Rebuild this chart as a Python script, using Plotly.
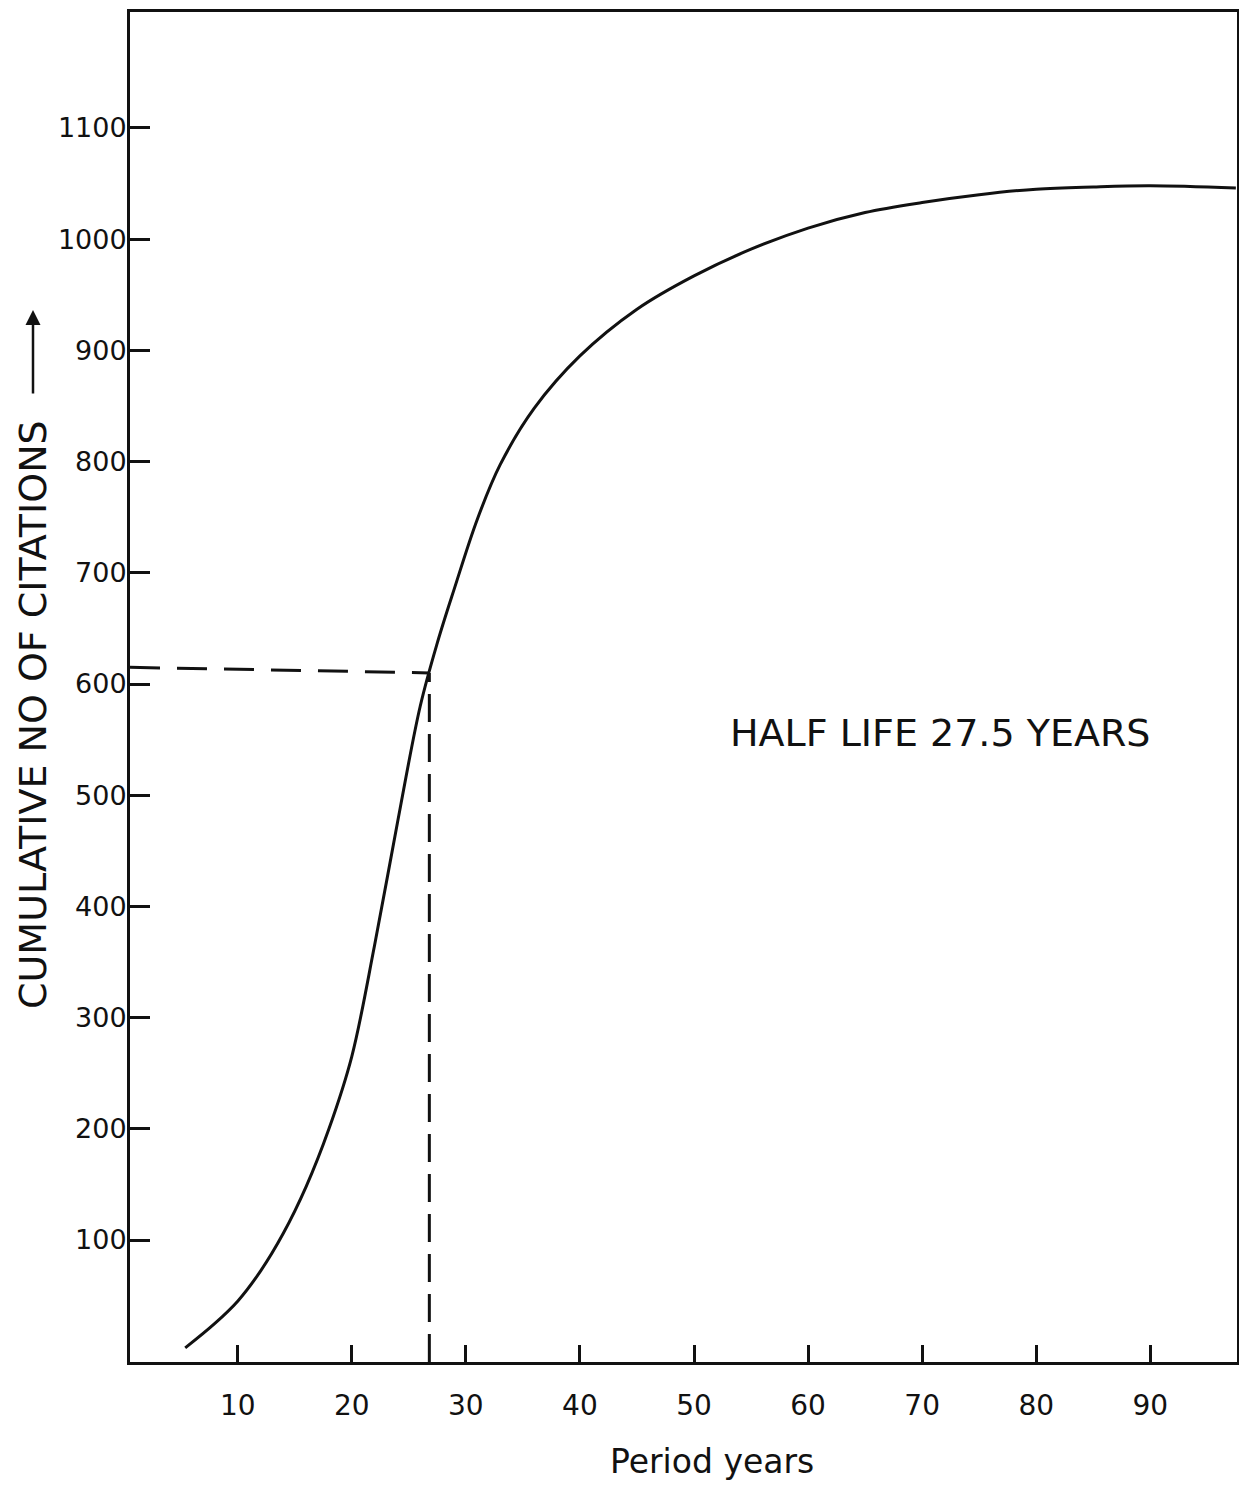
import plotly.graph_objects as go

# Data (cumulative citations vs period in years)
years = [5.4, 8, 10, 12, 14, 16, 18, 20, 22, 24, 26, 27.5, 29, 31, 33, 36, 40,
         45, 50, 55, 60, 65, 70, 75, 80, 85, 90, 97.5]
citations = [3, 25, 45, 72, 106, 148, 200, 265, 365, 475, 580, 637, 686, 748, 797,
             848, 895, 937, 967, 991, 1010, 1024, 1033, 1040, 1045, 1047, 1048, 1046]

x_ticks = [10, 20, 30, 40, 50, 60, 70, 80, 90]
y_ticks = [100, 200, 300, 400, 500, 600, 700, 800, 900, 1000, 1100]

half_life_year = 26.8
half_guide_x = [0.56, 26.8]
half_guide_y = [615, 610]
half_vert_y = [-9.7, 610]

x_range = [0.56, 97.6]
y_range = [-9.7, 1204.3]

FONT = "DejaVu Sans"
INK = "#111111"

# page body has an 8px margin; the figure is sized to fit inside the window
OFF = 8
W, H = 1247 - 2 * OFF, 1491 - 2 * OFF
PL, PR, PT, PB = 130, 1237, 12, 1362          # plot area in page pixels
ML, MR, MT, MB = PL - OFF, W - (PR - OFF), PT - OFF, H - (PB - OFF)


def px(xp):
    return (xp - PL) / (PR - PL)


def py(yp):
    return (PB - yp) / (PB - PT)


fig = go.Figure()

fig.add_trace(go.Scatter(
    x=years, y=citations, mode="lines",
    line=dict(color=INK, width=3, shape="spline", smoothing=1.0),
    hoverinfo="skip", showlegend=False))

fig.add_trace(go.Scatter(
    x=half_guide_x, y=half_guide_y, mode="lines",
    line=dict(color=INK, width=3, dash="30px,17px"),
    hoverinfo="skip", showlegend=False))

fig.add_trace(go.Scatter(
    x=[half_life_year, half_life_year], y=half_vert_y, mode="lines",
    line=dict(color=INK, width=3, dash="28px,12px"),
    hoverinfo="skip", showlegend=False))

fig.update_layout(
    width=W, height=H,
    margin=dict(l=ML, r=MR, t=MT, b=MB, autoexpand=False),
    paper_bgcolor="white", plot_bgcolor="white",
    font=dict(family=FONT, color=INK),
    xaxis=dict(range=x_range, tickvals=x_ticks, ticktext=[str(v) for v in x_ticks],
               ticks="inside", ticklen=17, tickwidth=3, tickcolor=INK,
               showline=True, linewidth=3, linecolor=INK, mirror=True,
               showgrid=False, zeroline=False, ticklabelstandoff=16,
               tickfont=dict(size=28, family=FONT, color=INK)),
    yaxis=dict(range=y_range, tickvals=y_ticks, ticktext=[str(v) for v in y_ticks],
               ticks="inside", ticklen=20, tickwidth=3, tickcolor=INK,
               showline=True, linewidth=3, linecolor=INK, mirror=True,
               showgrid=False, zeroline=False, ticklabelstandoff=-5,
               tickfont=dict(size=27, family=FONT, color=INK)),
)

# Annotation text
fig.add_annotation(x=px(940), y=py(733), xref="paper", yref="paper",
                   xanchor="center", yanchor="middle",
                   text="HALF LIFE 27.5 YEARS", showarrow=False,
                   font=dict(size=38, family=FONT, color=INK))

# Axis titles
fig.add_annotation(x=px(712), y=py(1462), xref="paper", yref="paper",
                   xanchor="center", yanchor="middle", showarrow=False,
                   text="Period years", font=dict(size=33, family=FONT, color=INK))

fig.add_annotation(x=px(33), y=py(715), xref="paper", yref="paper",
                   xanchor="center", yanchor="middle",
                   showarrow=False, textangle=-90,
                   text="CUMULATIVE NO OF CITATIONS",
                   font=dict(size=38, family=FONT, color=INK))

# Upward arrow of the y title
fig.add_annotation(x=px(33), y=py(310), xref="paper", yref="paper",
                   showarrow=True, ax=0, ay=85, text="", arrowhead=2, arrowsize=1.2,
                   arrowwidth=2.5, arrowcolor=INK)

fig.write_html("out.html")
